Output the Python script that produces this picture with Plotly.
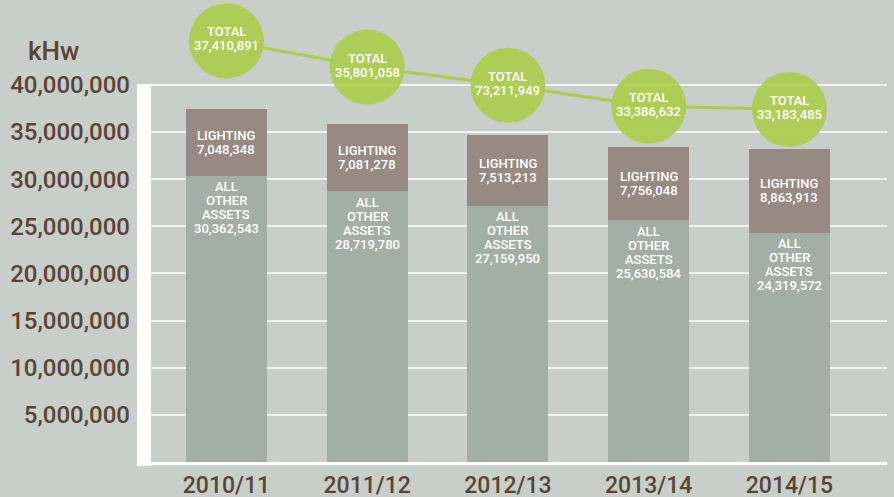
import plotly.graph_objects as go

# ---- data ----
years = ["2010/11", "2011/12", "2012/13", "2013/14", "2014/15"]
other_assets = [30362543, 28719780, 27159950, 25630584, 24319572]
lighting = [7048348, 7081278, 7513213, 7756048, 8863913]
total_labels = [37410891, 35801058, 73211949, 33386632, 33183485]
y_ticks = [5000000, 10000000, 15000000, 20000000, 25000000, 30000000, 35000000, 40000000]

BG = "#c8cec9"
C_OTHER = "#a3afa6"
C_LIGHT = "#978a82"
C_GREEN = "#abcd4d"
C_TEXT = "#5a4535"
FONT = "Roboto"

totals = [o + l for o, l in zip(other_assets, lighting)]

fig = go.Figure()
fig.add_trace(go.Bar(x=years, y=other_assets, marker=dict(color=C_OTHER, line=dict(width=0)),
                     width=0.575, name="All other assets", hoverinfo="skip"))
fig.add_trace(go.Bar(x=years, y=lighting, marker=dict(color=C_LIGHT, line=dict(width=0)),
                     width=0.575, name="Lighting", hoverinfo="skip"))
fig.add_trace(go.Scatter(x=years, y=totals, yaxis="y2", mode="lines+markers",
                         line=dict(color=C_GREEN, width=3),
                         marker=dict(size=75, color="rgba(171,205,77,0.92)", line=dict(width=0)),
                         cliponaxis=False, hoverinfo="skip"))

ann = []
lab_font = dict(family=FONT, size=13, color="white", weight=500)

def fmt(v):
    return f"{v:,}"

for i, yr in enumerate(years):
    o, l = other_assets[i], lighting[i]
    # lighting label
    for txt, sh in (("LIGHTING", 7), (fmt(l), -7)):
        ann.append(dict(x=yr, y=o + l / 2, xref="x", yref="y", text=txt, showarrow=False,
                        yshift=sh, font=lab_font, xanchor="center", yanchor="middle"))
    # other assets label
    for k, txt in enumerate(["ALL", "OTHER", "ASSETS", fmt(o)]):
        ann.append(dict(x=yr, y=o, xref="x", yref="y", text=txt, showarrow=False,
                        yshift=-11 - 14 * k, font=lab_font, xanchor="center", yanchor="middle"))
    # total label in circle
    for txt, sh in (("TOTAL", 9), (fmt(total_labels[i]), -5)):
        ann.append(dict(x=yr, y=totals[i], xref="x", yref="y2", text=txt, showarrow=False,
                        yshift=sh, font=lab_font, xanchor="center", yanchor="middle"))

ann.append(dict(x=-0.1318, y=0.8896, xref="paper", yref="paper", text="kHw", showarrow=False,
                font=dict(family=FONT, size=26, color=C_TEXT, weight=500),
                xanchor="center", yanchor="middle"))

fig.update_layout(
    width=894, height=497,
    margin=dict(l=151, r=7, t=0, b=35, autoexpand=False),
    paper_bgcolor=BG, plot_bgcolor=BG,
    barmode="stack", bargap=0,
    showlegend=False,
    annotations=ann,
    shapes=[dict(type="rect", xref="paper", yref="paper", x0=-0.019, x1=0,
                 y0=-0.0087, y1=0.818, fillcolor="white", line=dict(width=0), layer="above")],
    xaxis=dict(type="category", range=[-0.536, 4.693], showgrid=False, zeroline=False,
               showline=True, linecolor="white", linewidth=3, automargin=False,
               tickfont=dict(family=FONT, size=23, color=C_TEXT, weight=500),
               ticks="", ticklabelstandoff=0),
    yaxis=dict(range=[0, 49000000], tickvals=y_ticks, automargin=False,
               ticktext=[fmt(v) for v in y_ticks],
               showgrid=True, gridcolor="#f2f2ee", gridwidth=2, zeroline=False,
               showline=False, ticks="", ticklabelstandoff=20,
               tickfont=dict(family=FONT, size=24, color=C_TEXT, weight=500)),
    yaxis2=dict(range=[11420000, 39940000], overlaying="y", visible=False, showgrid=False),
)

fig.write_html("out.html", config={"displayModeBar": False},
               post_script="document.body.style.margin='0';document.body.style.overflow='hidden';")
